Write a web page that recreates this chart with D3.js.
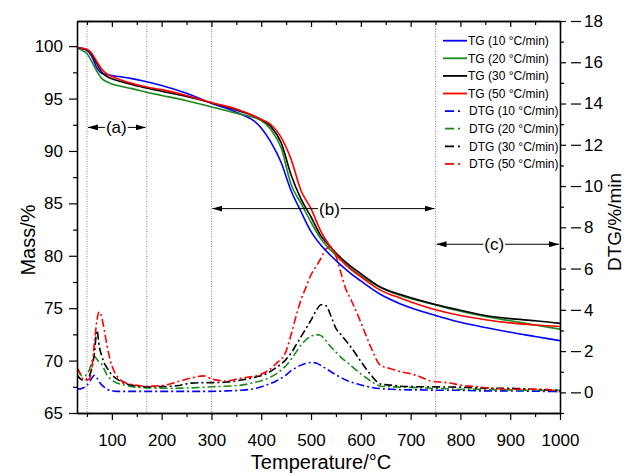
<!DOCTYPE html>
<html lang="en">
<head>
  <meta charset="UTF-8">
  <title>TG / DTG curves</title>
  <script src="https://d3js.org/d3.v7.min.js"></script>
  <style>
    body { margin: 0; background: #fff; }
    svg text { font-family: "Liberation Sans", Arial, sans-serif; fill: #000; }
  </style>
</head>
<body>
  <svg id="chart"></svg>
  <script>
    // TG curves (mass %), left axis
    const tgTemp = [30, 40, 50, 60, 70, 80, 90, 100, 120, 140, 170, 200, 250, 300, 350, 400, 420, 440, 460, 480, 500, 520, 540, 560, 580, 600, 640, 680, 750, 800, 850, 900, 950, 1000];
    const tg10 = [99.8, 99.75, 99.6, 99.0, 97.9, 97.4, 97.3, 97.2, 97.05, 96.9, 96.6, 96.25, 95.5, 94.55, 93.7, 92.2, 90.8, 88.9, 86.2, 84.2, 82.3, 81.0, 80.0, 79.1, 78.3, 77.6, 76.3, 75.4, 74.3, 73.65, 73.15, 72.7, 72.3, 71.9];
    const tg20 = [99.8, 99.6, 99.3, 98.5, 97.6, 96.9, 96.6, 96.4, 96.15, 95.95, 95.6, 95.3, 94.8, 94.2, 93.6, 92.9, 92.0, 90.3, 86.8, 85.0, 83.2, 81.6, 80.5, 79.6, 78.8, 78.1, 76.95, 76.2, 75.3, 74.7, 74.2, 73.8, 73.4, 73.0];
    const tg30 = [99.85, 99.8, 99.65, 99.2, 98.3, 97.5, 97.1, 96.9, 96.6, 96.35, 96.0, 95.7, 95.2, 94.6, 93.9, 93.0, 92.3, 90.8, 87.7, 85.4, 83.7, 81.9, 80.8, 79.8, 79.0, 78.3, 77.0, 76.3, 75.35, 74.8, 74.3, 74.0, 73.8, 73.55];
    const tg50 = [99.85, 99.8, 99.7, 99.3, 98.5, 97.8, 97.35, 97.1, 96.75, 96.45, 96.1, 95.85, 95.3, 94.6, 94.0, 93.0, 92.5, 91.3, 89.2, 86.2, 84.5, 82.3, 80.8, 79.6, 78.7, 78.0, 76.7, 75.95, 74.85, 74.3, 73.9, 73.6, 73.4, 73.25];

    // DTG curves (%/min), right axis
    const dtgTemp = [30, 35, 40, 45, 50, 55, 60, 65, 70, 75, 80, 85, 90, 100, 110, 120, 140, 170, 200, 230, 260, 285, 300, 330, 360, 390, 410, 430, 450, 460, 470, 480, 490, 500, 510, 520, 530, 540, 550, 560, 570, 580, 600, 620, 640, 660, 680, 700, 720, 740, 760, 780, 800, 830, 860, 900, 940, 970, 1000];
    const dtg10 = [0.17, 0.17, 0.2, 0.25, 0.35, 0.5, 0.7, 0.83, 0.7, 0.5, 0.35, 0.25, 0.15, 0.08, 0.05, 0.05, 0.05, 0.05, 0.05, 0.05, 0.05, 0.05, 0.05, 0.07, 0.1, 0.2, 0.35, 0.55, 0.85, 1.05, 1.2, 1.32, 1.4, 1.45, 1.42, 1.3, 1.15, 1.0, 0.85, 0.72, 0.6, 0.5, 0.36, 0.25, 0.18, 0.15, 0.13, 0.12, 0.12, 0.11, 0.1, 0.1, 0.1, 0.08, 0.07, 0.07, 0.06, 0.05, 0.05];
    const dtg20 = [1.1, 0.95, 0.8, 0.8, 0.9, 1.1, 1.5, 1.75, 1.6, 1.45, 1.35, 1.1, 0.85, 0.6, 0.45, 0.38, 0.28, 0.22, 0.2, 0.2, 0.22, 0.25, 0.27, 0.3, 0.35, 0.5, 0.65, 0.9, 1.3, 1.6, 1.95, 2.3, 2.55, 2.72, 2.8, 2.75, 2.5, 2.2, 1.95, 1.7, 1.5, 1.3, 0.9, 0.55, 0.3, 0.27, 0.25, 0.24, 0.22, 0.2, 0.19, 0.17, 0.15, 0.15, 0.13, 0.12, 0.1, 0.1, 0.1];
    const dtg30 = [0.85, 0.7, 0.6, 0.6, 0.65, 0.8, 1.2, 1.9, 3.0, 2.2, 1.75, 1.4, 1.2, 0.85, 0.65, 0.5, 0.35, 0.27, 0.28, 0.32, 0.45, 0.47, 0.47, 0.5, 0.6, 0.75, 0.9, 1.2, 1.6, 1.9, 2.3, 2.7, 3.1, 3.5, 3.95, 4.25, 4.2, 3.7, 3.1, 2.8, 2.5, 2.2, 1.5, 0.85, 0.4, 0.35, 0.3, 0.28, 0.27, 0.27, 0.26, 0.26, 0.25, 0.22, 0.2, 0.2, 0.15, 0.12, 0.1];
    const dtg50 = [1.2, 1.0, 0.7, 0.6, 0.6, 0.65, 1.2, 2.4, 3.5, 3.9, 3.6, 3.0, 2.3, 1.3, 0.8, 0.55, 0.38, 0.3, 0.33, 0.5, 0.7, 0.8, 0.65, 0.55, 0.7, 0.8, 1.0, 1.4, 2.0, 2.8, 3.7, 4.5, 5.1, 5.7, 6.1, 6.5, 6.95, 7.05, 6.6, 5.8, 5.0, 4.5, 3.4, 2.2, 1.3, 1.15, 1.0, 0.9, 0.75, 0.55, 0.5, 0.45, 0.35, 0.28, 0.2, 0.15, 0.15, 0.15, -0.03];

    const rates = ["10", "20", "30", "50"];
    const colors = ["#0000ff", "#1a8a1a", "#000000", "#ff0000"];
    const tgSeries = [tg10, tg20, tg30, tg50];
    const dtgSeries = [dtg10, dtg20, dtg30, dtg50];

    const massTicks = [65, 70, 75, 80, 85, 90, 95, 100];
    const massMinor = [67.5, 72.5, 77.5, 82.5, 87.5, 92.5, 97.5];
    const tempTicks = [100, 200, 300, 400, 500, 600, 700, 800, 900, 1000];
    const tempMinor = [50, 150, 250, 350, 450, 550, 650, 750, 850, 950];
    const dtgTicks = [0, 2, 4, 6, 8, 10, 12, 14, 16, 18];
    const dtgMinor = [-1, 1, 3, 5, 7, 9, 11, 13, 15, 17];

    // stage boundaries and labels
    const stageBounds = [50, 170, 300, 750];
    const stageLabels = ["(a)", "(b)", "(c)"];
    const stageFrom = [50, 300, 750];
    const stageTo = [170, 750, 1000];
    const stageMass = [92.25, 84.5, 81.1];

    const width = 627, height = 473;
    const margin = {top: 21, right: 67, bottom: 60, left: 77};

    const svg = d3.select('#chart')
      .attr('width', width)
      .attr('height', height);

    const x = d3.scaleLinear().domain([30, 1000]).range([margin.left, width - margin.right]);
    const yMass = d3.scaleLinear().domain([65, 102.4]).range([height - margin.bottom, margin.top]);
    const yDtg = d3.scaleLinear().domain([-1, 18]).range([height - margin.bottom, margin.top]);

    const defs = svg.append('defs');
    defs.append('clipPath').attr('id', 'plot-clip')
      .append('rect')
      .attr('x', margin.left).attr('y', margin.top)
      .attr('width', width - margin.left - margin.right)
      .attr('height', height - margin.top - margin.bottom);
    defs.append('marker')
      .attr('id', 'arrow')
      .attr('viewBox', '0 0 10 6')
      .attr('refX', 10).attr('refY', 3)
      .attr('markerWidth', 10).attr('markerHeight', 6)
      .attr('markerUnits', 'userSpaceOnUse')
      .attr('orient', 'auto-start-reverse')
      .append('path').attr('d', 'M0,0L10,3L0,6Z').attr('fill', '#000');

    // dotted stage boundaries
    svg.append('g')
      .selectAll('line')
      .data(stageBounds)
      .enter()
      .append('line')
      .attr('x1', d => x(d)).attr('x2', d => x(d))
      .attr('y1', margin.top).attr('y2', height - margin.bottom)
      .attr('stroke', '#8a8a8a')
      .attr('stroke-width', 1)
      .attr('stroke-dasharray', '1,1.5');

    // curves
    const plot = svg.append('g').attr('clip-path', 'url(#plot-clip)');
    const tgLine = d3.line()
      .x((d, i) => x(tgTemp[i]))
      .y(d => yMass(d))
      .curve(d3.curveMonotoneX);
    const dtgLine = d3.line()
      .x((d, i) => x(dtgTemp[i]))
      .y(d => yDtg(d))
      .curve(d3.curveMonotoneX);

    dtgSeries.forEach((s, i) => {
      plot.append('path')
        .attr('d', dtgLine(s))
        .attr('fill', 'none')
        .attr('stroke', colors[i])
        .attr('stroke-width', 1.6)
        .attr('stroke-dasharray', '8,3,2,3');
    });
    tgSeries.forEach((s, i) => {
      plot.append('path')
        .attr('d', tgLine(s))
        .attr('fill', 'none')
        .attr('stroke', colors[i])
        .attr('stroke-width', 1.6);
    });

    // stage arrows
    stageLabels.forEach((lab, i) => {
      const x0 = x(stageFrom[i]) + 1, x1 = x(stageTo[i]) - 1;
      const cx = i === 0 ? x(109) : (i === 1 ? x(537) : x(868));
      const y = yMass(stageMass[i]);
      const t = svg.append('text')
        .attr('x', cx).attr('y', y)
        .attr('dy', '0.35em')
        .attr('text-anchor', 'middle')
        .attr('font-size', 17)
        .text(lab);
      const w = t.node().getComputedTextLength() / 2 + 1;
      svg.append('line')
        .attr('x1', cx - w).attr('x2', x0).attr('y1', y).attr('y2', y)
        .attr('stroke', '#000').attr('stroke-width', 1)
        .attr('marker-end', 'url(#arrow)');
      svg.append('line')
        .attr('x1', cx + w).attr('x2', x1).attr('y1', y).attr('y2', y)
        .attr('stroke', '#000').attr('stroke-width', 1)
        .attr('marker-end', 'url(#arrow)');
    });

    // axes
    const styleAxis = (g) => {
      g.select('.domain').attr('stroke', '#000').attr('stroke-width', 1.3);
      g.selectAll('.tick line').attr('stroke', '#000').attr('stroke-width', 1.2);
      g.selectAll('.tick text').attr('font-size', 17);
    };

    svg.append('g')
      .attr('transform', `translate(0, ${height - margin.bottom})`)
      .call(d3.axisBottom(x).tickValues(tempTicks).tickSize(7).tickSizeOuter(0).tickPadding(14).tickFormat(d3.format('d')))
      .call(styleAxis);
    svg.append('g')
      .attr('transform', `translate(0, ${height - margin.bottom})`)
      .call(d3.axisBottom(x).tickValues(tempMinor).tickSize(4).tickSizeOuter(0).tickFormat(''))
      .call(styleAxis);

    svg.append('g')
      .attr('transform', `translate(0, ${margin.top})`)
      .call(d3.axisTop(x).tickValues(tempTicks).tickSize(-6).tickSizeOuter(0).tickFormat(''))
      .call(styleAxis);
    svg.append('g')
      .attr('transform', `translate(0, ${margin.top})`)
      .call(d3.axisTop(x).tickValues(tempMinor).tickSize(-4).tickSizeOuter(0).tickFormat(''))
      .call(styleAxis);

    svg.append('g')
      .attr('transform', `translate(${margin.left}, 0)`)
      .call(d3.axisLeft(yMass).tickValues(massTicks).tickSize(8).tickSizeOuter(0).tickPadding(6))
      .call(styleAxis);
    svg.append('g')
      .attr('transform', `translate(${margin.left}, 0)`)
      .call(d3.axisLeft(yMass).tickValues(massMinor).tickSize(4).tickSizeOuter(0).tickFormat(''))
      .call(styleAxis);

    const rightAxis = svg.append('g')
      .attr('transform', `translate(${width - margin.right}, 0)`)
      .call(d3.axisRight(yDtg).tickValues(dtgTicks).tickSize(6).tickSizeOuter(0).tickPadding(18))
      .call(styleAxis);
    rightAxis.selectAll('.tick')
      .append('line')
      .attr('x1', 11).attr('x2', 21)
      .attr('stroke', '#000').attr('stroke-width', 1.2);
    svg.append('g')
      .attr('transform', `translate(${width - margin.right}, 0)`)
      .call(d3.axisRight(yDtg).tickValues(dtgMinor).tickSize(4).tickSizeOuter(0).tickFormat(''))
      .call(styleAxis);

    // axis titles
    svg.append('text')
      .attr('x', 321).attr('y', 469)
      .attr('text-anchor', 'middle')
      .attr('font-size', 20)
      .text('Temperature/°C');
    svg.append('text')
      .attr('transform', 'translate(35, 240) rotate(-90)')
      .attr('text-anchor', 'middle')
      .attr('font-size', 20)
      .text('Mass/%');
    svg.append('text')
      .attr('transform', 'translate(621, 222) rotate(-90)')
      .attr('text-anchor', 'middle')
      .attr('font-size', 19)
      .text('DTG/%/min');

    // legend
    const legend = svg.append('g');
    const rowY = (i) => 40.7 + i * 17.6;
    rates.forEach((r, i) => {
      legend.append('line')
        .attr('x1', 443).attr('x2', 467)
        .attr('y1', rowY(i)).attr('y2', rowY(i))
        .attr('stroke', colors[i]).attr('stroke-width', 1.8);
      legend.append('text')
        .attr('x', 468).attr('y', rowY(i)).attr('dy', '0.35em')
        .attr('font-size', 12)
        .text(`TG (${r} °C/min)`);
    });
    rates.forEach((r, i) => {
      const y = rowY(i + 4);
      legend.append('line')
        .attr('x1', 445).attr('x2', 462)
        .attr('y1', y).attr('y2', y)
        .attr('stroke', colors[i]).attr('stroke-width', 1.8)
        .attr('stroke-dasharray', '9,4,2,4');
      legend.append('text')
        .attr('x', 469).attr('y', y).attr('dy', '0.35em')
        .attr('font-size', 12)
        .text(`DTG (${r} °C/min)`);
    });
  </script>
</body>
</html>
